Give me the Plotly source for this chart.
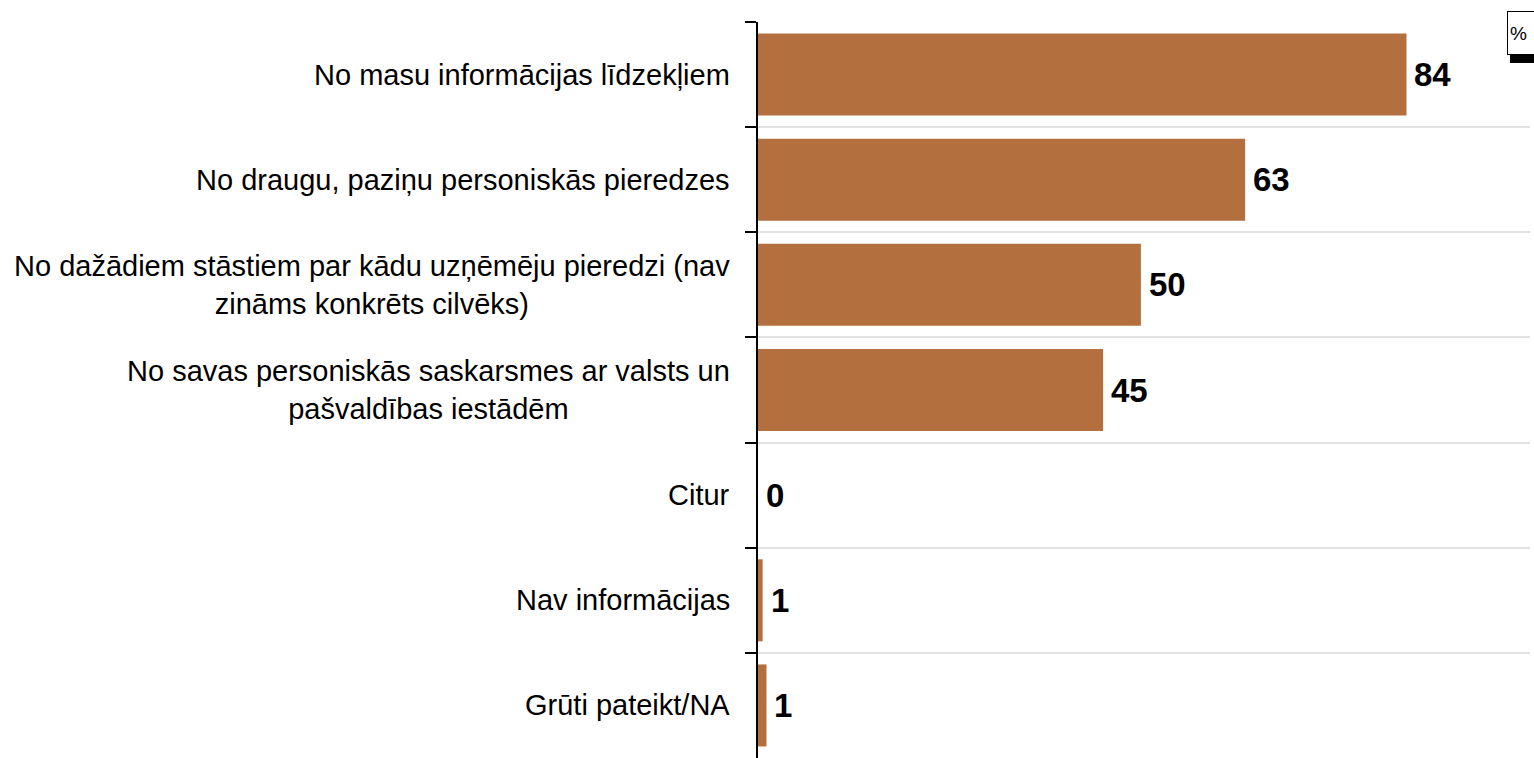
import plotly.graph_objects as go

categories = [
    "No masu informācijas līdzekļiem",
    "No draugu, paziņu personiskās pieredzes",
    "No dažādiem stāstiem par kādu uzņēmēju pieredzi (nav<br>zināms konkrēts cilvēks)",
    "No savas personiskās saskarsmes ar valsts un<br>pašvaldības iestādēm",
    "Citur",
    "Nav informācijas",
    "Grūti pateikt/NA",
]
values = [84.0, 63.1, 49.6, 44.7, 0.0, 0.6, 1.1]
value_labels = ["84", "63", "50", "45", "0", "1", "1"]

BAR_COLOR = "#B36F3E"
FONT = "Liberation Sans, Arial, sans-serif"

W, H = 1534, 758
ML, MR, MT, MB = 758, 4, 22, 0
PW = W - ML - MR
PH = H - MT - MB


def px_x(p):
    return (p - ML) / PW


def px_y(p):
    return (H - MB - p) / PH


fig = go.Figure()
fig.add_trace(go.Bar(
    y=categories,
    x=values,
    orientation="h",
    marker=dict(color=BAR_COLOR, line=dict(width=0)),
    hoverinfo="skip",
))

annotations = []
for cat, v, lab in zip(categories, values, value_labels):
    annotations.append(dict(
        x=v, y=cat, xref="x", yref="y", text=f"<b>{lab}</b>",
        showarrow=False, xanchor="left", yanchor="middle", xshift=6,
        font=dict(family=FONT, size=33, color="black"),
    ))
    annotations.append(dict(
        x=0, y=cat, xref="paper", yref="y", text=cat,
        showarrow=False, xanchor="right", yanchor="middle", xshift=-26,
        align="center",
        font=dict(family=FONT, size=29, color="black"),
    ))

annotations.append(dict(
    x=px_x(1507), y=px_y(11), xref="paper", yref="paper", text="%",
    showarrow=False, xanchor="left", yanchor="top", align="left",
    font=dict(family=FONT, size=19, color="black"),
    bgcolor="white", bordercolor="black", borderwidth=1, borderpad=2,
    width=30, height=38,
))

shapes = [dict(
    type="rect", xref="paper", yref="paper",
    x0=px_x(1510), x1=px_x(1540), y0=px_y(55), y1=px_y(63),
    fillcolor="black", line=dict(width=0), layer="above",
)]

fig.update_layout(
    width=W, height=H,
    margin=dict(l=ML, r=MR, t=MT, b=MB, pad=0),
    paper_bgcolor="white", plot_bgcolor="white",
    bargap=0.22,
    showlegend=False,
    font=dict(family=FONT, color="black"),
    xaxis=dict(range=[0, 100], showgrid=False, zeroline=False,
               showticklabels=False, ticks="", showline=False,
               fixedrange=True),
    yaxis=dict(autorange="reversed", showticklabels=False,
               showgrid=True, gridcolor="#e2e2e2", gridwidth=2,
               tickson="boundaries", ticks="outside", ticklen=11,
               tickwidth=2, tickcolor="black",
               showline=True, linecolor="black", linewidth=2,
               zeroline=False, fixedrange=True),
    annotations=annotations,
    shapes=shapes,
)

fig.write_html(
    "out.html",
    config={"displayModeBar": False},
    post_script="document.body.style.margin='0';document.body.style.overflow='hidden';",
)
